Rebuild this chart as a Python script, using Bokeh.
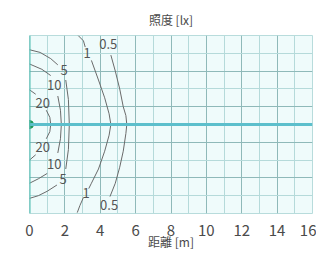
from bokeh.plotting import figure
from bokeh.models import Span, Title, FixedTicker
from bokeh.core.properties import value
from bokeh.embed import file_html
from bokeh.resources import INLINE

# axis ticks
x_ticks = [0, 2, 4, 6, 8, 10, 12, 14, 16]
x_minor = list(range(0, 17))
y_major = [0, 2, 4, 6, 8, 10]
y_minor = list(range(0, 11))

light_x = [0]
light_y = [5]

# contour segments (x lists, y lists)
c05_x = [[4.6, 4.85, 5.1, 5.3, 5.45, 5.5, 5.45, 5.3, 5.1, 4.85, 4.55]]
c05_y = [[8.9, 8.0, 7.0, 6.0, 5.5, 5.0, 4.5, 3.5, 2.6, 1.7, 0.95]]
c05_lbl_x = [4.45, 4.5]
c05_lbl_y = [9.55, 0.5]

c1_x = [[2.75, 3.05, 3.15], [3.5, 3.9, 4.25, 4.5, 4.6, 4.5, 4.25, 3.9, 3.5, 3.35], [3.05, 2.85, 2.7]]
c1_y = [[10.0, 9.7, 9.35], [8.6, 7.5, 6.5, 5.6, 5.0, 4.4, 3.5, 2.5, 1.7, 1.4], [0.9, 0.45, 0.05]]
c1_lbl_x = [3.25, 3.2]
c1_lbl_y = [9.0, 1.15]

c5_x = [[0.0, 0.6, 1.2, 1.6], [2.05, 2.2, 2.25, 2.2, 2.05], [1.55, 1.0, 0.5, 0.0]]
c5_y = [[9.2, 9.05, 8.7, 8.35], [7.5, 6.4, 5.0, 3.6, 2.5], [1.6, 1.25, 1.0, 0.85]]
c5_lbl_x = [1.95, 1.9]
c5_lbl_y = [8.05, 1.95]

c10_x = [[0.0, 0.7, 1.2], [1.6, 1.75, 1.8, 1.75, 1.6], [1.0, 0.5, 0.0]]
c10_y = [[8.4, 8.1, 7.75], [6.6, 5.8, 5.0, 4.2, 3.4], [2.25, 1.95, 1.7]]
c10_lbl_x = [1.4, 1.4]
c10_lbl_y = [7.2, 2.8]

c20_x = [[0.0, 0.35], [0.95, 1.15, 1.2, 1.15, 0.95], [0.35, 0.0]]
c20_y = [[6.95, 6.7], [5.8, 5.4, 5.0, 4.6, 4.2], [3.3, 3.0]]
c20_lbl_x = [0.75, 0.75]
c20_lbl_y = [6.2, 3.75]

p = figure(frame_width=283, frame_height=178, x_range=(0, 16), y_range=(0, 10),
           output_backend="svg", toolbar_location=None,
           min_border_left=29, min_border_right=4, min_border_top=0, min_border_bottom=0)
p.background_fill_color = "#effbfb"
p.border_fill_color = "white"
p.outline_line_color = "#b8dcdc"

p.yaxis.visible = False
p.xaxis.ticker = FixedTicker(ticks=x_ticks, minor_ticks=x_minor)
p.xaxis.axis_line_color = None
p.xaxis.major_tick_line_color = None
p.xaxis.minor_tick_line_color = None
p.xaxis.major_label_standoff = 5
p.xaxis.major_label_text_font = "Noto Sans CJK JP"
p.xaxis.major_label_text_font_size = "15px"
p.xaxis.major_label_text_color = "#4a4a4a"
p.xaxis.axis_label = "距離 [m]"
p.xaxis.axis_label_text_font = "Noto Sans CJK JP"
p.xaxis.axis_label_text_font_size = "12px"
p.xaxis.axis_label_text_font_style = "normal"
p.xaxis.axis_label_text_color = "#4a4a4a"
p.xaxis.axis_label_standoff = -6

p.xgrid.ticker = FixedTicker(ticks=x_ticks, minor_ticks=x_minor)
p.xgrid.grid_line_color = "#8fb9b9"
p.xgrid.minor_grid_line_color = "#b5dada"
p.ygrid.ticker = FixedTicker(ticks=y_major, minor_ticks=y_minor)
p.ygrid.grid_line_color = "#8fb9b9"
p.ygrid.minor_grid_line_color = "#b5dada"

p.add_layout(Title(text="照度 [lx]", align="center", text_font="Noto Sans CJK JP",
                   text_font_size="12px", text_font_style="normal", text_color="#4a4a4a",
                   standoff=16), "above")

# light axis and left edge
p.add_layout(Span(location=light_y[0], dimension="width", line_color="#5cbfcc", line_width=3))
p.add_layout(Span(location=light_x[0], dimension="height", line_color="#4cbcb0", line_width=2))

line_color = "#6a6a6a"
for xs, ys in [(c05_x, c05_y), (c1_x, c1_y), (c5_x, c5_y), (c10_x, c10_y), (c20_x, c20_y)]:
    p.multi_line(xs, ys, line_color=line_color, line_width=1)

for lx, ly, t in [(c05_lbl_x, c05_lbl_y, "0.5"), (c1_lbl_x, c1_lbl_y, "1"),
                  (c5_lbl_x, c5_lbl_y, "5"), (c10_lbl_x, c10_lbl_y, "10"),
                  (c20_lbl_x, c20_lbl_y, "20")]:
    p.text(lx, ly, text=[t] * len(lx), text_font=value("Noto Sans CJK JP"),
           text_font_size="13px", text_color="#555555", text_align="center",
           text_baseline="middle")

p.scatter(light_x, light_y, size=8, color="#1e9a5a")

open("out.html", "w").write(file_html(p, INLINE))
